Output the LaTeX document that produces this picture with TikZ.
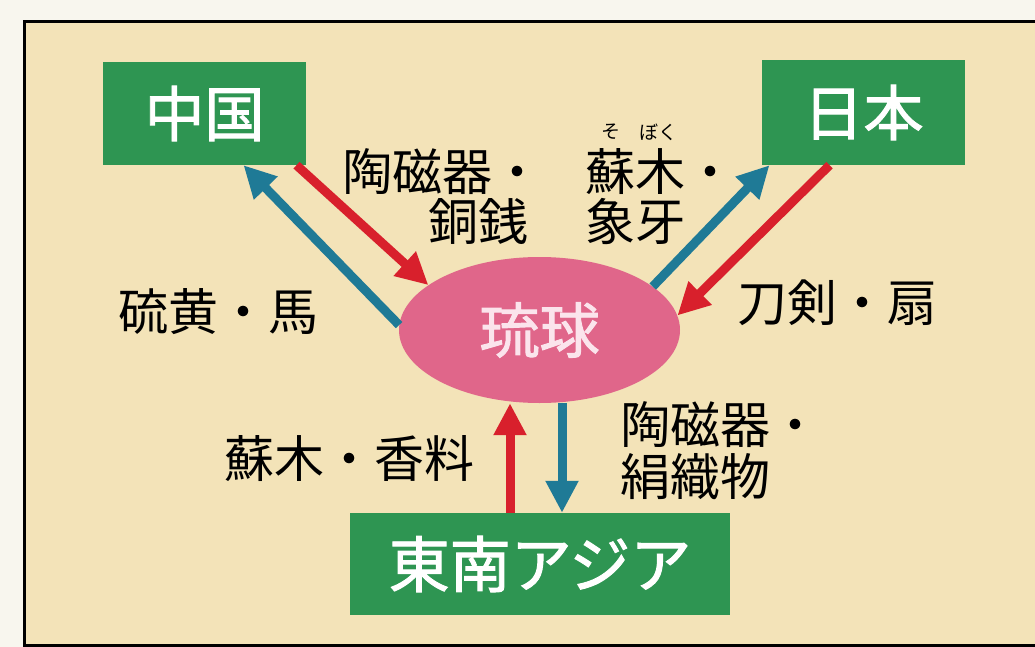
\documentclass[tikz,border=0pt]{standalone}
\usepackage{fontspec}
\newfontfamily\jp{Noto Sans CJK JP}
\newfontfamily\jpb[FakeBold=1.6]{Noto Sans CJK JP}
\usetikzlibrary{shapes.geometric,arrows.meta}
\definecolor{outerbg}{HTML}{F8F6EE}
\definecolor{panel}{HTML}{F3E3B8}
\definecolor{boxgreen}{HTML}{2E9552}
\definecolor{ryupink}{HTML}{E0668A}
\definecolor{ryutext}{HTML}{FBE4EC}
\definecolor{tealarr}{HTML}{1F7A96}
\definecolor{redarr}{HTML}{D8202C}
\tikzset{
  box/.style={fill=boxgreen, text=white, inner sep=0pt,
    font=\jpb\fontsize{60}{60}\selectfont},
  lab/.style={text=black, inner sep=0pt,
    font=\jp\fontsize{50}{50}\selectfont},
  ruby/.style={text=black, inner sep=0pt,
    font=\jp\fontsize{19}{19}\selectfont},
  arr/.style={line width=9pt, -{Triangle[length=32pt,width=31pt]}},
  tarr/.style={arr, draw=tealarr},
  rarr/.style={arr, draw=redarr}
}
\begin{document}
\begin{tikzpicture}[x=1pt,y=-1pt]
\useasboundingbox (0,0) rectangle (1035,647);
\fill[outerbg] (0,0) rectangle (1035,647);
\draw[line width=3pt, fill=panel] (24,22) rectangle (1050,645);

% nodes
\node[box, minimum width=203pt, minimum height=103pt] (china) at (204.5,113.5) {中国};
\node[box, minimum width=203pt, minimum height=105pt] (japan) at (863.5,112.5) {日本};
\node[box, minimum width=380pt, minimum height=102pt, font=\jpb\fontsize{61}{61}\selectfont] (sea) at (540,564) {東南アジア};
\node[ellipse, fill=ryupink, text=ryutext, inner sep=0pt, minimum width=281pt, minimum height=146pt,
  font=\jpb\fontsize{60}{60}\selectfont] (ryu) at (539.5,330) {琉球};

% labels
\node[lab, align=right] (l1) at (442,196.5) {陶磁器・\\銅銭\hspace*{14pt}};
\node[lab, align=left] (l2) at (660,196.5) {蘇木・\\象牙};
\node[ruby] (r1) at (611,132) {そ};
\node[ruby] (r2) at (658,132) {ぼく};
\node[lab] (l3) at (218,312) {硫黄・馬};
\node[lab] (l4) at (837,303) {刀剣・扇};
\node[lab] (l5) at (349,459) {蘇木・香料};
\node[lab, align=left, font=\jp\fontsize{50}{52}\selectfont] (l6) at (720,451) {陶磁器・\\絹織物};

% connectors
\draw[tarr] (ryu.178) -- ([xshift=39pt]china.south);
\draw[rarr] ([xshift=92pt]china.south) -- (ryu.158);
\draw[tarr] (ryu.21) -- ([xshift=-94pt]japan.south);
\draw[rarr] ([xshift=-34pt]japan.south) -- (ryu.6);
\coordinate (upfoot) at ([xshift=-30pt]sea.north);
\coordinate (downfoot) at ([xshift=22pt]sea.north);
\draw[rarr] (upfoot) -- (ryu.south -| upfoot);
\draw[tarr] (ryu.south -| downfoot) -- (downfoot);
\end{tikzpicture}
\end{document}
